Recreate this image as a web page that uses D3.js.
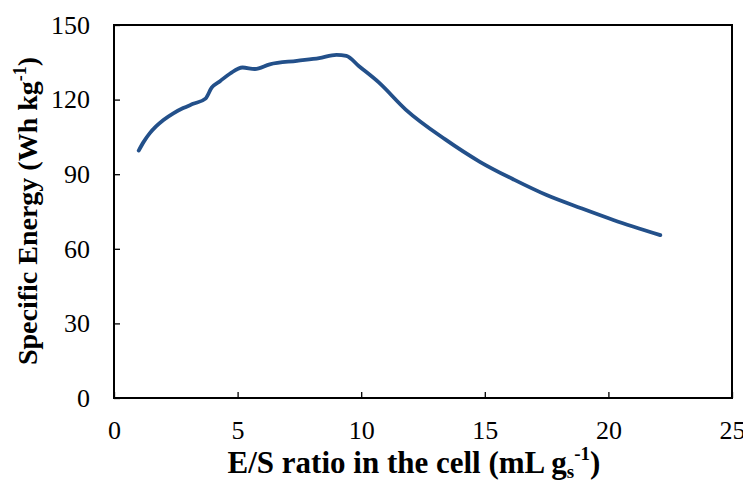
<!DOCTYPE html>
<html><head><meta charset="utf-8">
<script src="https://cdn.jsdelivr.net/npm/d3@7"></script>
<style>body{margin:0;background:#fff}svg text{font-family:"Liberation Serif","Times New Roman",serif}</style>
</head><body><svg id="c" width="743" height="481"></svg>
<script>
const esRatio = [1.0,1.2,1.45,1.7,2.0,2.4,2.8,3.2,3.7,3.95,4.3,4.7,5.2,5.7,6.3,7.4,8.3,9.0,9.4,9.9,10.7,11.8,13.4,14.8,16.2,17.5,18.9,20.2,22.1];
const specificEnergy = [99.5,103,106.5,109.2,111.8,114.5,116.6,118.3,120.4,124.8,127.5,130.5,132.9,132.3,134.2,135.6,136.7,138,137.6,133.5,127,116,104,95,87.7,81.6,76.3,71.6,65.5];
const xTicks = [0,5,10,15,20,25];
const yTicks = [0,30,60,90,120,150];

const svg = d3.select("#c");
const L=114, R=732, T=25, B=398;
const x = d3.scaleLinear().domain([0,25]).range([L,R]);
const y = d3.scaleLinear().domain([0,150]).range([B,T]);

svg.append("rect").attr("x",L).attr("y",T).attr("width",R-L).attr("height",B-T)
  .attr("fill","none").attr("stroke","#000").attr("stroke-width",2);

const xa = svg.append("g").attr("transform",`translate(0,${B})`)
  .call(d3.axisBottom(x).tickValues(xTicks).tickSizeInner(-6).tickSizeOuter(0).tickPadding(23));
const ya = svg.append("g").attr("transform",`translate(${L},0)`)
  .call(d3.axisLeft(y).tickValues(yTicks).tickSizeInner(-6).tickSizeOuter(0).tickPadding(24));
[xa,ya].forEach(a=>{
  a.select(".domain").remove();
  a.selectAll("line").attr("stroke","#000").attr("stroke-width",1.3);
  a.selectAll("text").attr("font-size",26).attr("fill","#000").attr("font-family","Liberation Serif");
});

const line = d3.line().x((d,i)=>x(esRatio[i])).y(d=>y(d)).curve(d3.curveMonotoneX);
svg.append("path").datum(specificEnergy).attr("d",line).attr("fill","none")
  .attr("stroke","#23508a").attr("stroke-width",3.8).attr("stroke-linecap","round");

const xt = svg.append("text").attr("x",414).attr("y",473).attr("text-anchor","middle")
  .attr("font-size",31).attr("font-weight","bold");
xt.append("tspan").text("E/S ratio in the cell (mL g");
xt.append("tspan").text("s").attr("font-size",19).attr("dy",5);
xt.append("tspan").text("-1").attr("font-size",19).attr("dy",-18);
xt.append("tspan").text(")").attr("dy",13);

const yt = svg.append("text").attr("transform",`translate(37,211) rotate(-90)`).attr("text-anchor","middle")
  .attr("font-size",28).attr("font-weight","bold");
yt.append("tspan").text("Specific Energy (Wh kg");
yt.append("tspan").text("-1").attr("font-size",18).attr("dy",-11);
yt.append("tspan").text(")").attr("dy",11);
</script></body></html>
